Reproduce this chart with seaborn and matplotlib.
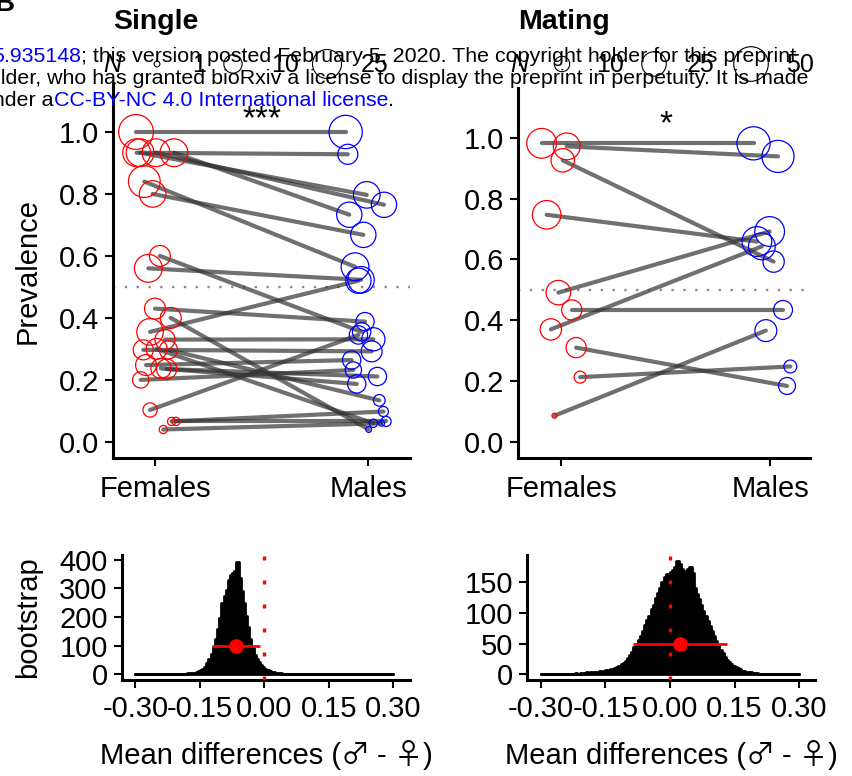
import numpy as np
import pandas as pd
import matplotlib
matplotlib.use("Agg")
import matplotlib.pyplot as plt
from matplotlib.ticker import FormatStrFormatter
from matplotlib.offsetbox import TextArea, HPacker, AnnotationBbox
import seaborn as sns

# ---------------- data ----------------
# Single: one pair per line (female prevalence -> male prevalence)
single_f_prev = [1.00, 0.933, 0.933, 0.933, 0.933, 0.84, 0.80, 0.60, 0.56, 0.43, 0.40, 0.355,
                 0.33, 0.297, 0.30, 0.297, 0.248, 0.237, 0.235, 0.20, 0.103, 0.066, 0.066, 0.04]
single_m_prev = [1.00, 0.928, 0.797, 0.765, 0.733, 0.565, 0.668, 0.355, 0.523, 0.388, 0.04, 0.52,
                 0.331, 0.292, 0.06, 0.134, 0.264, 0.187, 0.211, 0.232, 0.345, 0.098, 0.066, 0.06]
single_f_n = [36, 23, 23, 23, 23, 30, 21, 13, 23, 13, 13, 21, 12, 12, 13, 10, 13, 12, 12, 8, 6, 2, 2, 2]
single_m_n = [33, 12, 21, 19, 19, 23, 19, 10, 21, 10, 1, 19, 16, 13, 2, 4, 10, 10, 10, 8, 10, 3, 3, 1]
single_f_dx = [-0.089, -0.086, -0.07, 0.005, 0.089, -0.05, -0.011, 0.023, -0.031, 0.0, 0.074, -0.023,
               0.047, -0.055, 0.008, 0.063, -0.042, 0.028, 0.055, -0.067, -0.023, 0.078, 0.099, 0.039]
single_m_dx = [-0.105, -0.095, -0.006, 0.075, -0.088, -0.061, -0.022, -0.03, -0.033, -0.014, 0.003, -0.045,
               0.025, 0.017, 0.025, 0.053, -0.077, -0.053, 0.044, -0.069, -0.045, 0.072, 0.085, 0.064]

# Mating
mating_f_prev = [0.982, 0.972, 0.926, 0.747, 0.491, 0.37, 0.434, 0.31, 0.213, 0.086]
mating_m_prev = [0.982, 0.939, 0.593, 0.659, 0.692, 0.643, 0.434, 0.184, 0.248, 0.366]
mating_f_n = [37, 30, 23, 34, 25, 19, 17, 17, 6, 1]
mating_m_n = [46, 43, 19, 37, 37, 30, 15, 12, 7, 20]
mating_f_dx = [-0.093, 0.027, 0.008, -0.069, -0.013, -0.049, 0.051, 0.072, 0.091, -0.032]
mating_m_dx = [-0.08, 0.037, 0.016, -0.064, -0.003, -0.04, 0.061, 0.08, 0.096, -0.021]

sex_labels = ["Females", "Males"]
single_legend_n = [1, 10, 25]
mating_legend_n = [10, 25, 50]

# bootstrap distributions of mean differences (male - female), bin width 0.005
bin_width = 0.005
single_boot_start = -0.200
single_boot_counts = [1, 1, 2, 2, 3, 3, 4, 6, 8, 11, 14, 19, 26, 38, 55, 72, 95, 125, 160, 196,
                      250, 272, 295, 330, 348, 355, 362, 392, 335, 292, 250, 205, 165, 125, 92, 68,
                      52, 42, 33, 26, 20, 15, 12, 9, 7, 5, 4, 3, 2, 1]
mating_boot_start = -0.240
mating_boot_counts = [1, 1, 1, 1, 2, 1, 2, 2, 2, 3, 2, 3, 3, 4, 4, 5, 4, 6, 7, 6, 8, 9, 10, 12,
                      13, 16, 18, 22, 26, 31, 37, 44, 50, 56, 63, 70, 80, 88, 94, 106, 112, 124,
                      132, 141, 150, 158, 163, 161, 166, 170, 175, 184, 180, 172, 168, 166, 171,
                      174, 165, 140, 131, 122, 112, 103, 95, 86, 78, 70, 62, 54, 47, 40, 34, 28,
                      24, 20, 17, 14, 12, 10, 8, 6, 5, 4, 3, 3, 2, 2, 2, 1, 1, 1, 1]
single_mean, single_ci, single_level = -0.065, (-0.122, -0.010), 100
mating_mean, mating_ci, mating_level = 0.023, (-0.087, 0.133), 50

# ---------------- style ----------------
sns.set_theme(style="ticks")
plt.rcParams["font.family"] = ["Liberation Sans", "DejaVu Sans"]
plt.rcParams["axes.unicode_minus"] = False
plt.rcParams["text.color"] = "black"
plt.rcParams["axes.labelcolor"] = "black"

W, H = 853, 776
fig = plt.figure(figsize=(W / 100, H / 100), dpi=100)


def px_axes(l, t, r, b):
    return fig.add_axes([l / W, 1 - b / H, (r - l) / W, (b - t) / H])


def style_axes(ax):
    sns.despine(ax=ax)
    for s in ["left", "bottom"]:
        ax.spines[s].set_linewidth(2.2)
        ax.spines[s].set_color("black")
    ax.tick_params(width=1.5, length=6, labelsize=21, pad=4, color="black", labelcolor="black")


def draw_pairs(ax, f_prev, m_prev, f_n, m_n, f_dx, m_dx, k):
    rows = []
    for i in range(len(f_prev)):
        rows.append(dict(pair=i, sex="Females", xpos=0 + f_dx[i], prev=f_prev[i], n=f_n[i]))
        rows.append(dict(pair=i, sex="Males", xpos=1 + m_dx[i], prev=m_prev[i], n=m_n[i]))
    df = pd.DataFrame(rows)
    ax.axhline(0.5, color="#8c8c8c", ls=(0, (1, 4)), lw=1.7, zorder=1)
    sns.lineplot(data=df, x="xpos", y="prev", units="pair", estimator=None, sort=False,
                 color="#333333", alpha=0.7, linewidth=3, legend=False, ax=ax, zorder=2)
    for sex, col in [("Females", "red"), ("Males", "blue")]:
        sub = df[df.sex == sex]
        sns.scatterplot(data=sub, x="xpos", y="prev", size="n", sizes=(k * 1, k * 60),
                        size_norm=(1, 60), facecolors="none", edgecolor=col, linewidth=0.9,
                        legend=False, ax=ax, zorder=3)
    ax.set_xticks([0, 1])
    ax.set_xticklabels(sex_labels)
    ax.set_yticks([0, 0.2, 0.4, 0.6, 0.8, 1.0])
    ax.yaxis.set_major_formatter(FormatStrFormatter("%.1f"))
    ax.set_xlabel("")
    ax.set_ylabel("")
    style_axes(ax)
    ax.tick_params(axis="x", pad=6)


k_single, k_mating = 17.4, 12.4

ax1 = px_axes(113, 83, 410, 458)
draw_pairs(ax1, single_f_prev, single_m_prev, single_f_n, single_m_n, single_f_dx, single_m_dx, k_single)
ax1.set_xlim(-0.197, 1.197)
ax1.set_ylim(-0.052, 1.158)
ax1.set_ylabel("Prevalence", fontsize=21)
ax1.yaxis.set_label_coords(-0.242, 0.5)
ax1.text(0.5, 1.013, "***", ha="center", va="baseline", fontsize=24)

ax2 = px_axes(518, 88, 810, 458)
draw_pairs(ax2, mating_f_prev, mating_m_prev, mating_f_n, mating_m_n, mating_f_dx, mating_m_dx, k_mating)
ax2.set_xlim(-0.206, 1.19)
ax2.set_ylim(-0.053, 1.164)
ax2.text(0.5, 1.016, "*", ha="center", va="baseline", fontsize=24)


def diff_label(ax):
    # x-axis title with large outline sex symbols taken from the CJK font
    latin = dict(fontsize=21, color="black", family=["Liberation Sans"])
    symbol = dict(fontsize=21, color="black", family=["Noto Sans CJK JP"])
    inner = HPacker(children=[TextArea("\u2642", textprops=symbol),
                              TextArea("-", textprops=latin),
                              TextArea("\u2640", textprops=symbol)],
                    align="baseline", pad=0, sep=5)
    box = HPacker(children=[TextArea("Mean differences (", textprops=latin), inner,
                            TextArea(")", textprops=latin)],
                  align="baseline", pad=0, sep=0)
    ab = AnnotationBbox(box, (0.5, -0.49), xycoords=ax.transAxes, box_alignment=(0.5, 1),
                        frameon=False, annotation_clip=False, pad=0)
    ax.add_artist(ab)


def draw_boot(ax, start, counts, mean, ci, level):
    n_before = int(round((start + 0.3) / bin_width))
    n_after = int(round(0.6 / bin_width)) - n_before - len(counts)
    full = [0] * n_before + list(counts) + [0] * n_after
    edges = -0.3 + bin_width * np.arange(len(full) + 1)
    hist_df = pd.DataFrame({"diff": edges[:-1] + bin_width / 2, "count": full})
    sns.histplot(data=hist_df, x="diff", weights="count", bins=list(edges), element="step",
                 fill=True, color="black", alpha=1, linewidth=2, ax=ax)
    ax.axvline(0, color="red", lw=2.4, ls=(0, (1.2, 6.0)), zorder=4)
    ax.hlines(level, ci[0], ci[1], color="red", lw=2, zorder=5)
    sns.scatterplot(x=[mean], y=[level], color="red", edgecolor="red", s=95, ax=ax,
                    zorder=6, legend=False)
    ax.set_xticks([-0.3, -0.15, 0, 0.15, 0.3])
    ax.xaxis.set_major_formatter(FormatStrFormatter("%.2f"))
    ax.set_ylabel("")
    ax.set_xlabel("")
    style_axes(ax)
    ax.tick_params(axis="x", pad=5)
    diff_label(ax)


ax3 = px_axes(121.7, 555, 410, 680)
draw_boot(ax3, single_boot_start, single_boot_counts, single_mean, single_ci, single_level)
ax3.set_xlim(-0.332, 0.339)
ax3.set_ylim(-20, 417)
ax3.set_yticks([0, 100, 200, 300, 400])
ax3.set_ylabel("bootstrap", fontsize=21)
ax3.yaxis.set_label_coords(-0.275, 0.5)

ax4 = px_axes(526.7, 555, 815, 680)
draw_boot(ax4, mating_boot_start, mating_boot_counts, mating_mean, mating_ci, mating_level)
ax4.set_xlim(-0.333, 0.337)
ax4.set_ylim(-9.3, 194)
ax4.set_yticks([0, 50, 100, 150])

# ---------------- overlay: titles, size legends, watermark ----------------
ov = fig.add_axes([0, 0, 1, 1])
ov.set_xlim(0, W)
ov.set_ylim(H, 0)
ov.axis("off")

ov.text(-6, 11, "B", fontsize=20, fontweight="bold", va="baseline")
ov.text(113, 29, "Single", fontsize=20.5, fontweight="bold", va="baseline")
ov.text(518, 29, "Mating", fontsize=20.5, fontweight="bold", va="baseline")


def size_legend(x_n, keys_x, labels_x, values, k):
    ov.text(x_n, 72, "N", fontsize=18, style="italic", ha="center", va="baseline")
    ov.scatter(keys_x, [64] * len(keys_x), s=[k * v for v in values], facecolors="none",
               edgecolors="black", linewidths=0.8)
    for lx, v in zip(labels_x, values):
        ov.text(lx, 72, str(v), fontsize=18, ha="left", va="baseline")


size_legend(112, [157, 233, 327], [192, 271, 361], single_legend_n, k_single)
size_legend(519, [562, 654, 751], [596, 687, 786], mating_legend_n, k_mating)

fs_wm = 15.4
t1 = ov.text(-8, 62, "5.935148", color="blue", fontsize=fs_wm, va="baseline", ha="left")
ov.annotate("; this version posted February 5, 2020. The copyright holder for this preprint",
            xy=(1, 0), xycoords=t1, va="bottom", ha="left", fontsize=fs_wm, color="black")
ov.text(-23, 84, "holder, who has granted bioRxiv a license to display the preprint in perpetuity. It is made",
        color="black", fontsize=fs_wm, va="baseline", ha="left")
t3 = ov.text(-19, 106, "under a", color="black", fontsize=fs_wm, va="baseline", ha="left")
t4 = ov.annotate("CC-BY-NC 4.0 International license", xy=(1, 0), xycoords=t3,
                 va="bottom", ha="left", fontsize=fs_wm, color="blue")
ov.annotate(".", xy=(1, 0), xycoords=t4, va="bottom", ha="left", fontsize=fs_wm, color="black")

fig.savefig("out.png", dpi=100)
